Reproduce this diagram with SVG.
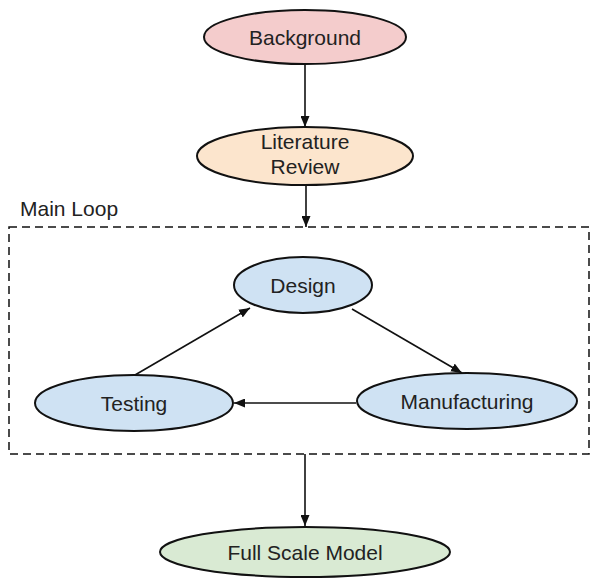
<svg xmlns="http://www.w3.org/2000/svg" width="592" height="579" viewBox="0 0 592 579">
<style>
.node ellipse{stroke:#111;stroke-width:2}
text{font-family:"Liberation Sans",Arial,sans-serif;font-size:21px;fill:#222;text-anchor:middle}
.conn line{stroke:#111;stroke-width:1.6;marker-end:url(#ah)}
</style>
<defs>
<marker id="ah" markerWidth="11" markerHeight="9" refX="11" refY="4.5" orient="auto" markerUnits="userSpaceOnUse">
<path d="M0,0 L11,4.5 L0,9 Z" fill="#111"/>
</marker>
</defs>
<rect width="592" height="579" fill="#fff"/>
<g id="main-loop">
<rect x="9" y="227" width="580" height="227" fill="none" stroke="#111" stroke-width="1.5" stroke-dasharray="8,5"/>
<text x="20" y="216" style="text-anchor:start">Main Loop</text>
</g>
<g class="conn" id="connectors">
<line x1="305" y1="64" x2="305" y2="127"/>
<line x1="306" y1="185" x2="306" y2="227"/>
<line x1="352" y1="309" x2="462" y2="373"/>
<line x1="356" y1="403" x2="234" y2="403"/>
<line x1="135" y1="375" x2="250" y2="308"/>
<line x1="305" y1="454" x2="305" y2="526"/>
</g>
<g class="node" id="background">
<ellipse cx="305" cy="37" rx="101" ry="27" fill="#f4cccc"/>
<text x="305" y="45">Background</text>
</g>
<g class="node" id="literature-review">
<ellipse cx="305" cy="156" rx="108" ry="29" fill="#fce5cd"/>
<text x="305" y="149">Literature</text>
<text x="305" y="174">Review</text>
</g>
<g class="node" id="design">
<ellipse cx="303" cy="285" rx="69" ry="28" fill="#cfe2f3"/>
<text x="303" y="293">Design</text>
</g>
<g class="node" id="testing">
<ellipse cx="134" cy="403" rx="99" ry="28" fill="#cfe2f3"/>
<text x="134" y="411">Testing</text>
</g>
<g class="node" id="manufacturing">
<ellipse cx="467" cy="401" rx="110" ry="28" fill="#cfe2f3"/>
<text x="467" y="409">Manufacturing</text>
</g>
<g class="node" id="full-scale-model">
<ellipse cx="305" cy="552" rx="145" ry="25" fill="#d9ead3"/>
<text x="305" y="560">Full Scale Model</text>
</g>
</svg>
